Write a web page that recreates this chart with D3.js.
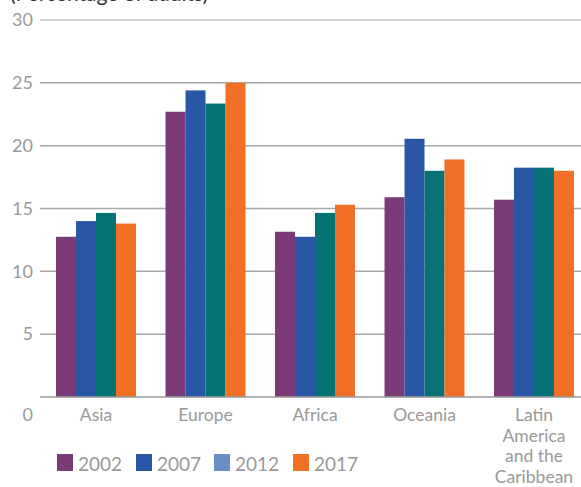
<!DOCTYPE html>
<html>
<head>
<meta charset="utf-8">
<script src="https://cdn.jsdelivr.net/npm/d3@7"></script>
<style>
  body { margin: 0; background: #fff; }
  text { font-family: Lato, 'Open Sans', sans-serif; }
</style>
</head>
<body>
<svg id="chart"></svg>
<script>
const regions = ['Asia', 'Europe', 'Africa', 'Oceania', 'Latin America and the Caribbean'];
const regionLines = [['Asia'], ['Europe'], ['Africa'], ['Oceania'], ['Latin', 'America', 'and the', 'Caribbean']];
const years = ['2002', '2007', '2012', '2017'];
const v2002 = [12.75, 22.7, 13.15, 15.9, 15.7];
const v2007 = [14.0, 24.4, 12.75, 20.55, 18.25];
const v2012 = [14.65, 23.35, 14.65, 18.0, 18.25];
const v2017 = [13.8, 25.0, 15.3, 18.9, 18.0];
const yTicks = [0, 5, 10, 15, 20, 25, 30];

const series = [v2002, v2007, v2012, v2017];
const barColors = ['#7b3a78', '#2a57a5', '#077275', '#f26f26'];
const legendColors = ['#7b3a78', '#2a57a5', '#6b8ec8', '#f26f26'];

const width = 581;
const height = 487;

const svg = d3.select('#chart').attr('width', width).attr('height', height);

const x = d3.scaleBand()
  .domain(regions)
  .range([41.25, 588.75])
  .paddingInner(0.27)
  .paddingOuter(0.135);

const xInner = d3.scaleBand()
  .domain(years)
  .range([0, x.bandwidth()]);

const y = d3.scaleLinear().domain([0, 30]).range([397, 20]);

// title, mostly above the top edge as in the original
svg.append('text')
  .attr('x', 10)
  .attr('y', 1)
  .style('font-size', '21px')
  .attr('fill', '#333')
  .text('(Percentage of adults)');

// gridlines
svg.append('g')
  .selectAll('line')
  .data(yTicks.filter(d => d > 0))
  .enter()
  .append('line')
  .attr('x1', 40)
  .attr('x2', width)
  .attr('y1', d => y(d))
  .attr('y2', d => y(d))
  .attr('stroke', d => d === 30 ? '#c8c8c8' : '#a8a8a8')
  .attr('stroke-width', 1.5);

// y labels
svg.append('g')
  .selectAll('text')
  .data(yTicks)
  .enter()
  .append('text')
  .attr('x', 33)
  .attr('y', d => d === 0 ? y(d) + 18 : y(d))
  .attr('dy', '0.35em')
  .attr('text-anchor', 'end')
  .style('font-size', '18px')
  .attr('fill', '#999')
  .text(d => d);

// bars
const groups = svg.append('g')
  .selectAll('g')
  .data(regions)
  .enter()
  .append('g')
  .attr('transform', d => 'translate(' + x(d) + ',0)');

groups.selectAll('rect')
  .data((d, i) => years.map((yr, j) => ({ yr, j, v: series[j][i] })))
  .enter()
  .append('rect')
  .attr('x', d => xInner(d.yr))
  .attr('width', xInner.bandwidth())
  .attr('y', d => y(d.v))
  .attr('height', d => y(0) - y(d.v))
  .attr('fill', d => barColors[d.j]);

// baseline
svg.append('line')
  .attr('x1', 40)
  .attr('x2', width)
  .attr('y1', y(0))
  .attr('y2', y(0))
  .attr('stroke', '#999')
  .attr('stroke-width', 1.5);

// x labels
const xLabels = svg.append('g')
  .selectAll('text')
  .data(regions)
  .enter()
  .append('text')
  .attr('x', d => x(d) + x.bandwidth() / 2)
  .attr('y', 421)
  .attr('text-anchor', 'middle')
  .style('font-size', '17.5px')
  .attr('fill', '#999');

xLabels.selectAll('tspan')
  .data((d, i) => regionLines[i])
  .enter()
  .append('tspan')
  .attr('x', function () { return d3.select(this.parentNode).attr('x'); })
  .attr('dy', (d, i) => i === 0 ? 0 : 20.5)
  .text(d => d);

// legend
const legendX = [57, 136, 214, 293];
const legend = svg.append('g')
  .selectAll('g')
  .data(years)
  .enter()
  .append('g')
  .attr('transform', (d, i) => 'translate(' + legendX[i] + ',454)');

legend.append('rect')
  .attr('width', 16)
  .attr('height', 17)
  .attr('fill', (d, i) => legendColors[i]);

legend.append('text')
  .attr('x', 21)
  .attr('y', 17)
  .style('font-size', '19px')
  .attr('fill', '#999')
  .text(d => d);
</script>
</body>
</html>
